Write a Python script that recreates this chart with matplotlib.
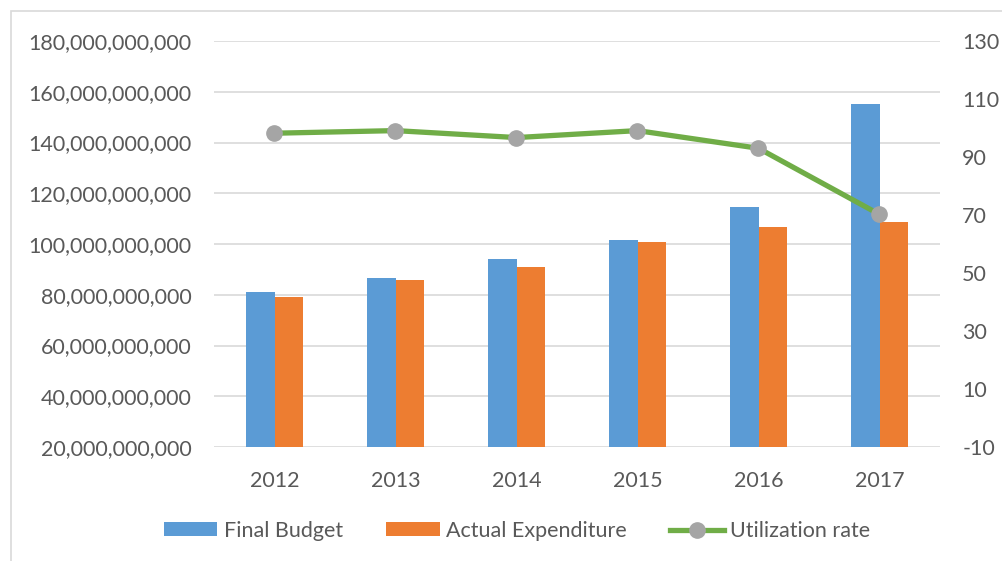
import matplotlib
matplotlib.use("Agg")
import matplotlib.pyplot as plt
import matplotlib.ticker as mticker
from matplotlib.patches import Rectangle
import numpy as np

# budget data
years = ["2012", "2013", "2014", "2015", "2016", "2017"]
final_budget = [81.1e9, 86.6e9, 94.1e9, 101.6e9, 114.5e9, 155.2e9]
actual_expenditure = [79.1e9, 85.8e9, 90.9e9, 100.7e9, 106.6e9, 108.6e9]
utilization_rate = [98.2, 99.1, 96.7, 99.1, 93.0, 70.2]

left_ticks = np.arange(20e9, 180e9 + 1, 20e9)
right_ticks = np.arange(-10, 131, 20)

BLUE = "#5B9BD5"
ORANGE = "#ED7D31"
GREEN = "#70AD47"
MARKER = "#A5A5A5"
GRID = "#D9D9D9"
TEXT = "#595959"

plt.rcParams["font.family"] = ["Lato", "DejaVu Sans"]

fig = plt.figure(figsize=(10.02, 5.61), dpi=100)
W, H = 1002, 561
ax = fig.add_axes([214 / W, 1 - 447 / H, (940 - 214) / W, (447 - 41) / H])

# outer chart border (only top/left visible)
fig.patches.append(Rectangle((11 / W, -0.1), 1.2, 1 - 11 / H + 0.1, transform=fig.transFigure,
                             fill=False, edgecolor=GRID, linewidth=1.2))

x = np.arange(len(years))
bw = 0.237
ax.bar(x - bw / 2, final_budget, bw, color=BLUE, label="Final Budget", zorder=2)
ax.bar(x + bw / 2, actual_expenditure, bw, color=ORANGE, label="Actual Expenditure", zorder=2)

ax.set_xlim(-0.5, len(years) - 0.5)
ax.set_ylim(20e9, 180e9)
ax.set_yticks(left_ticks)
ax.yaxis.set_major_formatter(mticker.FuncFormatter(lambda v, p: f"{v:,.0f}"))
ax.set_xticks(x)
ax.set_xticklabels(years)
ax.grid(axis="y", color=GRID, linewidth=1.2, zorder=0)
ax.set_axisbelow(True)
for s in ax.spines.values():
    s.set_visible(False)
ax.tick_params(axis="both", length=0, labelsize=15.5, labelcolor=TEXT)
ax.tick_params(axis="y", pad=16)
ax.tick_params(axis="x", pad=17)

ax2 = ax.twinx()
ax2.plot(x, utilization_rate, color=GREEN, linewidth=3.8, marker="o", markersize=11,
         markerfacecolor=MARKER, markeredgecolor=MARKER, label="Utilization rate",
         solid_joinstyle="round", zorder=3)
ax2.set_ylim(-10, 130)
ax2.set_yticks(right_ticks)
ax2.yaxis.set_major_formatter(mticker.FuncFormatter(lambda v, p: f"{v:.0f}"))
for s in ax2.spines.values():
    s.set_visible(False)
ax2.tick_params(axis="y", length=0, labelsize=15.5, labelcolor=TEXT, pad=16)

h1, l1 = ax.get_legend_handles_labels()
h2, l2 = ax2.get_legend_handles_labels()
fig.legend(h1 + h2, l1 + l2, loc="center", bbox_to_anchor=(517 / W, 1 - 531 / H), ncol=3,
           frameon=False, fontsize=15.5, labelcolor=TEXT, handlelength=2.5, handleheight=0.62,
           handletextpad=0.3, columnspacing=2.0)

fig.savefig("out.png", dpi=100)
